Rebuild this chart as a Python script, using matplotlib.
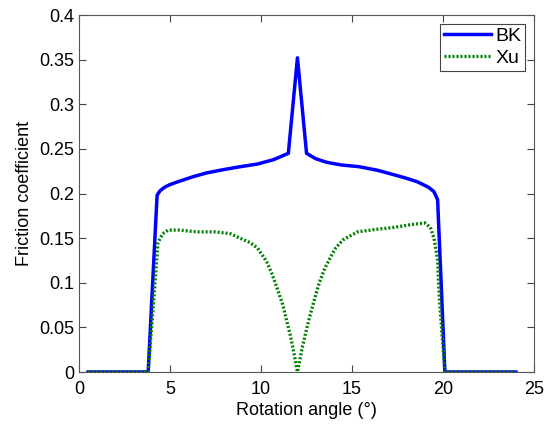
import matplotlib.pyplot as plt
import numpy as np

plt.rcParams['font.family'] = ['Liberation Sans', 'DejaVu Sans']

# BK curve
bk_x = [0.5, 3.8, 4.29, 4.45, 4.7, 5.0, 5.55, 6.3, 7.0, 8.0, 8.85, 9.8, 10.7, 11.5,
        12.0, 12.5, 13.0, 13.6, 14.4, 15.4, 16.4, 17.3, 18.0, 18.6, 19.2, 19.5, 19.7, 20.1, 24.0]
bk_y = [0.0, 0.0, 0.198, 0.203, 0.207, 0.210, 0.214, 0.219, 0.223, 0.227, 0.230, 0.233, 0.238, 0.245,
        0.352, 0.245, 0.239, 0.235, 0.232, 0.230, 0.226, 0.221, 0.217, 0.213, 0.207, 0.202, 0.193, 0.0, 0.0]

# Xu curve
xu_x = [0.5, 3.8, 4.1, 4.34, 4.6, 4.9, 5.5, 6.5, 7.5, 8.3, 8.85, 9.4, 9.8, 10.3, 10.6, 10.9,
        11.2, 11.4, 11.6, 11.8, 12.0, 12.25, 12.5, 12.7, 13.0, 13.2, 13.5, 13.8, 14.1, 14.5,
        15.3, 16.4, 17.3, 18.2, 19.0, 19.3, 19.5, 19.7, 19.8, 20.1, 24.0]
xu_y = [0.0, 0.0, 0.08, 0.145, 0.155, 0.159, 0.159, 0.157, 0.157, 0.155, 0.150, 0.145, 0.139,
        0.124, 0.110, 0.093, 0.075, 0.058, 0.042, 0.022, 0.0, 0.026, 0.048, 0.064, 0.086, 0.100,
        0.116, 0.128, 0.139, 0.148, 0.157, 0.160, 0.162, 0.165, 0.167, 0.162, 0.150, 0.126,
        0.081, 0.0, 0.0]

fig = plt.figure(figsize=(5.47, 4.25), dpi=100)
ax = fig.add_axes([0.1444, 0.1247, 0.832, 0.84])

ax.plot(bk_x, bk_y, color='#0000ff', lw=2.5, label='BK')
ax.plot(xu_x, xu_y, color='#008000', lw=2.4, ls=(0, (0.6, 0.6)), label='Xu')

ax.set_xlim(0, 25)
ax.set_ylim(0, 0.4)
ax.set_xticks([0, 5, 10, 15, 20, 25])
ax.set_yticks(np.arange(0, 0.41, 0.05))
ax.set_yticklabels(['0', '0.05', '0.1', '0.15', '0.2', '0.25', '0.3', '0.35', '0.4'])
ax.tick_params(direction='in', top=True, right=True, labelsize=13, length=5, color='#444444')
ax.tick_params(axis='x', pad=6.5)
for s in ax.spines.values():
    s.set_color('#555555')

ax.set_xlabel('Rotation angle (°)', fontsize=13, labelpad=3)
ax.set_ylabel('Friction coefficient', fontsize=13, labelpad=4)

leg = ax.legend(loc='upper right', fontsize=14, fancybox=False, framealpha=1,
                handlelength=2.4, handletextpad=0.25, borderpad=0.2, labelspacing=0.2,
                borderaxespad=0.45)
leg.get_frame().set_edgecolor('#444444')
leg.get_frame().set_linewidth(0.8)

fig.savefig('out.png', dpi=100)
